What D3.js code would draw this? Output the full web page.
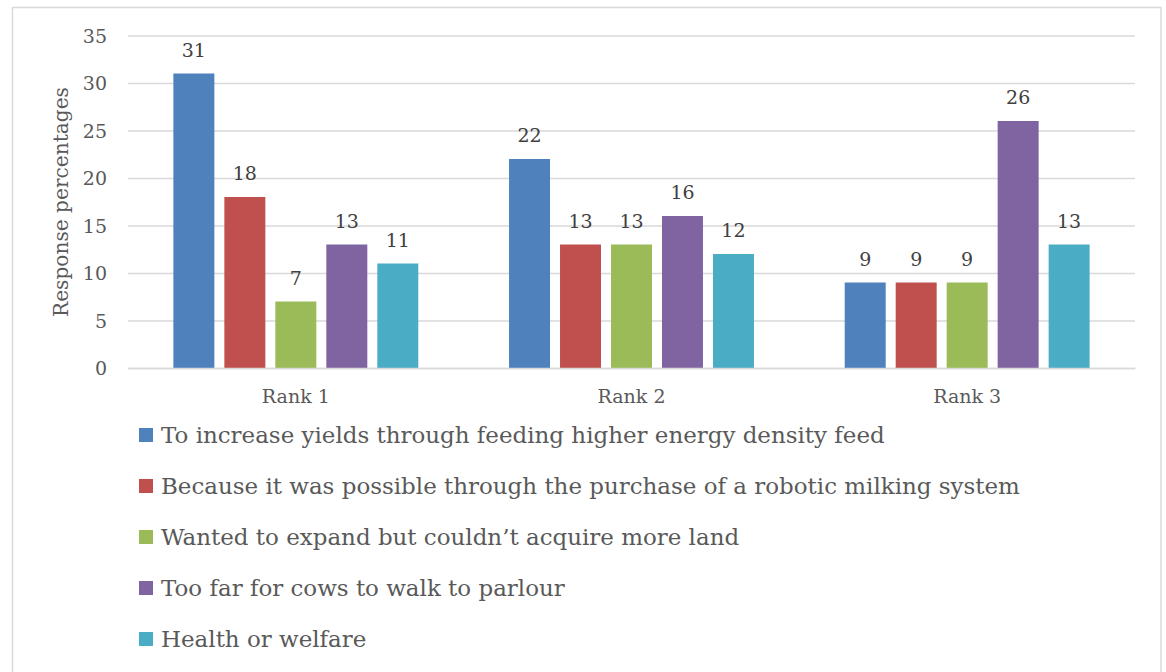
<!DOCTYPE html>
<html><head><meta charset="utf-8">
<script src="https://cdn.jsdelivr.net/npm/d3@7"></script>
<style>html,body{margin:0;padding:0;background:#fff;}svg{display:block;}
svg text{font-family:"DejaVu Serif",serif;}
</style>
</head><body>
<svg id="c" width="1166" height="672"></svg>
<script>
const categories = ["Rank 1", "Rank 2", "Rank 3"];
const seriesNames = [
  "To increase yields through feeding higher energy density feed",
  "Because it was possible through the purchase of a robotic milking system",
  "Wanted to expand but couldn\u2019t acquire more land",
  "Too far for cows to walk to parlour",
  "Health or welfare"
];
const seriesValues = [
  [31, 22, 9],
  [18, 13, 9],
  [7, 13, 9],
  [13, 16, 26],
  [11, 12, 13]
];
const colors = ["#4F81BD", "#C0504D", "#9BBB59", "#8064A2", "#4BACC6"];
const yTicks = [0, 5, 10, 15, 20, 25, 30, 35];
const yTitle = "Response percentages";

const svg = d3.select("#c");
const txt = "#595959";

svg.append("rect").attr("x", 12.5).attr("y", 7.5).attr("width", 1148.5).attr("height", 680)
  .attr("fill", "#fff").attr("stroke", "#D9D9D9").attr("stroke-width", 1.5);

const x0 = d3.scaleBand().domain(categories).range([128, 1135]).padding(0);
const x1 = d3.scaleBand().domain(d3.range(seriesNames.length)).range([0, x0.bandwidth()])
  .paddingInner(0.196).paddingOuter(0.89);
const y = d3.scaleLinear().domain([0, 35]).range([368, 35.5]);

const yAxis = d3.axisLeft(y).tickValues(yTicks).tickSize(-(1135 - 128)).tickPadding(21);
const gy = svg.append("g").attr("transform", "translate(128,0)").call(yAxis);
gy.attr("font-family", null).attr("font-size", null);
gy.select(".domain").remove();
gy.selectAll(".tick line").attr("stroke", "#D9D9D9").attr("stroke-width", 1.5);
gy.selectAll(".tick text").attr("fill", txt).style("font-size", "19px").attr("dy", "0.36em");

const groups = svg.append("g").selectAll("g").data(categories).join("g")
  .attr("transform", d => `translate(${x0(d)},0)`);
groups.each(function(cat, ci) {
  const g = d3.select(this);
  seriesNames.forEach((s, si) => {
    const v = seriesValues[si][ci];
    g.append("rect").attr("x", x1(si)).attr("y", y(v)).attr("width", x1.bandwidth())
      .attr("height", y(0) - y(v)).attr("fill", colors[si]);
    g.append("text").attr("x", x1(si) + x1.bandwidth() / 2).attr("y", y(v) - 17)
      .attr("text-anchor", "middle").attr("fill", "#404040")
      .style("font-size", "19px").text(v);
  });
});

const xAxis = d3.axisBottom(x0).tickSize(0).tickPadding(0);
const gx = svg.append("g").attr("transform", "translate(0,368)").call(xAxis);
gx.attr("font-family", null).attr("font-size", null);
gx.select(".domain").attr("stroke", "#D9D9D9").attr("stroke-width", 1.5);
gx.selectAll(".tick text").attr("fill", txt).style("font-size", "19px").attr("y", 35).attr("dy", 0);

const yt = svg.append("text").attr("transform", "translate(68,202) rotate(-90)").attr("text-anchor", "middle")
  .attr("fill", txt).style("font-size", "100px").text(yTitle);
yt.style("font-size", (100 * 230 / yt.node().getComputedTextLength()).toFixed(2) + "px");

const leg = svg.append("g").selectAll("g").data(seriesNames).join("g")
  .attr("transform", (d, i) => `translate(139,${443 + i * 51})`);
leg.append("rect").attr("x", 0).attr("y", -15).attr("width", 14).attr("height", 14)
  .attr("fill", (d, i) => colors[i]);
const lt = leg.append("text").attr("x", 22).attr("y", 0).attr("fill", txt)
  .style("font-size", "100px").text(d => d);
const legSize = 100 * 724 / lt.nodes()[0].getComputedTextLength();
lt.style("font-size", legSize.toFixed(2) + "px");
</script>
</body></html>
